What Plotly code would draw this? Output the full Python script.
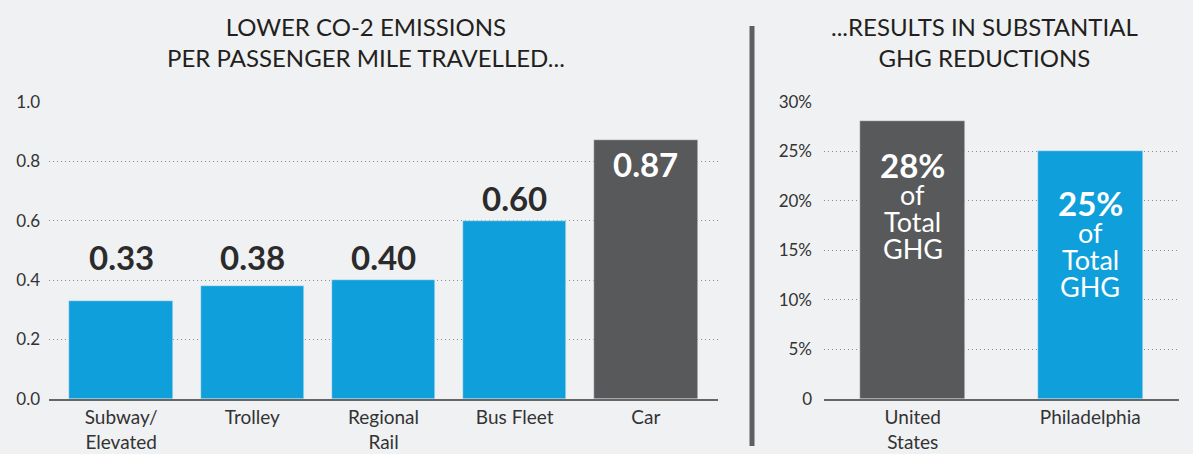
import plotly.graph_objects as go

# ---- data ----
modes = ["Subway/<br>Elevated", "Trolley", "Regional<br>Rail", "Bus Fleet", "Car"]
co2_per_mile = [0.33, 0.38, 0.40, 0.60, 0.87]
mode_colors = ["#0f9fdb", "#0f9fdb", "#0f9fdb", "#0f9fdb", "#58595b"]

regions = ["United<br>States", "Philadelphia"]
ghg_share = [28, 25]
region_colors = ["#58595b", "#0f9fdb"]
ghg_label_lines = ["of", "Total", "GHG"]

left_ticks = [0.0, 0.2, 0.4, 0.6, 0.8, 1.0]
left_ticktext = ["0.0", "0.2", "0.4", "0.6", "0.8", "1.0"]
right_ticks = [0, 5, 10, 15, 20, 25, 30]
right_ticktext = ["0", "5%", "10%", "15%", "20%", "25%", "30%"]

BG = "#f0f1f3"
FONT = "Lato"
TXT = "#2b2b2b"
W, H = 1193, 454


def px_x(p):
    return p / W


def px_y(p):
    return 1 - p / H


fig = go.Figure()
fig.add_trace(go.Bar(x=modes, y=co2_per_mile, marker_color=mode_colors,
                     width=0.79, xaxis="x", yaxis="y", hoverinfo="skip"))
fig.add_trace(go.Bar(x=regions, y=ghg_share, marker_color=region_colors,
                     width=0.59, xaxis="x2", yaxis="y2", hoverinfo="skip"))

annotations = []
# value labels for left chart
label_floor = co2_per_mile[2]
for m, v in zip(modes, co2_per_mile):
    if v > 0.8:
        annotations.append(dict(x=m, y=v, xref="x", yref="y", text="<b>%.2f</b>" % v,
                                showarrow=False, yanchor="top", yshift=-2,
                                font=dict(family=FONT, size=33, color="white")))
    else:
        annotations.append(dict(x=m, y=max(v, label_floor), xref="x", yref="y",
                                text="<b>%.2f</b>" % v, showarrow=False,
                                yanchor="bottom", yshift=1,
                                font=dict(family=FONT, size=33, color=TXT)))

# in-bar labels for right chart (one annotation per line for tight spacing)
start_shift = [-22, -30]
for r, v, s in zip(regions, ghg_share, start_shift):
    annotations.append(dict(x=r, y=v, xref="x2", yref="y2", text="<b>%d%%</b>" % v,
                            showarrow=False, yanchor="top", yshift=s,
                            font=dict(family=FONT, size=33, color="white")))
    for i, line in enumerate(ghg_label_lines):
        annotations.append(dict(x=r, y=v, xref="x2", yref="y2", text=line,
                                showarrow=False, yanchor="top",
                                yshift=s - 33 - 27 * i,
                                font=dict(family=FONT, size=27, color="white")))

# titles
annotations.append(dict(x=px_x(366), y=px_y(42), xref="paper", yref="paper",
                        xanchor="center", yanchor="middle",
                        text="LOWER CO-2 EMISSIONS<br>PER PASSENGER MILE TRAVELLED...",
                        showarrow=False,
                        font=dict(family=FONT, size=24, color="#231f20")))
annotations.append(dict(x=px_x(984), y=px_y(42), xref="paper", yref="paper",
                        xanchor="center", yanchor="middle",
                        text="...RESULTS IN SUBSTANTIAL<br>GHG REDUCTIONS",
                        showarrow=False,
                        font=dict(family=FONT, size=24, color="#231f20")))

ydom = [px_y(399), px_y(101)]
grid = dict(showgrid=True, gridcolor="#8c8c8c", gridwidth=1, griddash="1px,3px",
            zeroline=False, ticks="", automargin=False,
            tickfont=dict(family=FONT, size=17, color="#333333"))
xcommon = dict(showline=True, linecolor="#666666", linewidth=2, ticks="",
               showgrid=False, automargin=False, ticklabelstandoff=0,
               tickfont=dict(family=FONT, size=19, color="#333333"))

fig.update_layout(
    width=W, height=H, margin=dict(l=0, r=0, t=0, b=0),
    paper_bgcolor=BG, plot_bgcolor=BG, showlegend=False, bargap=0,
    font=dict(family=FONT),
    xaxis=dict(domain=[px_x(49), px_x(718)], range=[-0.55, 4.55], anchor="y", **xcommon),
    yaxis=dict(domain=ydom, range=[0, 1.002], tickvals=left_ticks, ticktext=left_ticktext,
               anchor="x", ticklabelstandoff=8, **grid),
    xaxis2=dict(domain=[px_x(824), px_x(1179)], range=[-0.5, 1.5], anchor="y2", **xcommon),
    yaxis2=dict(domain=ydom, range=[0, 30.06], tickvals=right_ticks, ticktext=right_ticktext,
                anchor="x2", ticklabelstandoff=11, **grid),
    annotations=annotations,
    shapes=[dict(type="line", xref="paper", yref="paper",
                 x0=px_x(752), x1=px_x(752), y0=px_y(26), y1=px_y(446),
                 line=dict(color="#5f5f5f", width=5))],
)

fig.write_html(
    "out.html",
    config={"displayModeBar": False},
    post_script="document.body.style.margin='0';document.body.style.background='%s';" % BG,
)
